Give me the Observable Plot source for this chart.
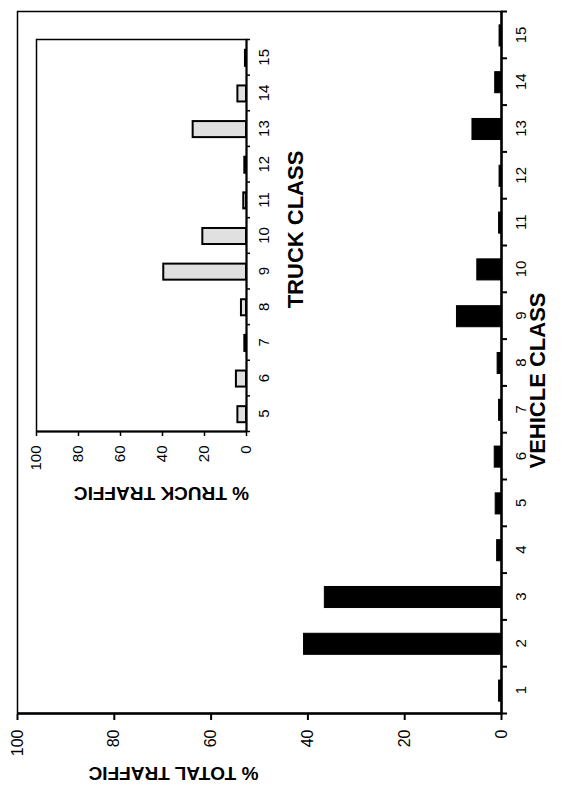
<!DOCTYPE html>
<html>
<head>
<meta charset="utf-8">
<script src="https://cdn.jsdelivr.net/npm/d3@7"></script>
<script src="https://cdn.jsdelivr.net/npm/@observablehq/plot@0.6"></script>
<style>
  html, body { margin: 0; padding: 0; background: white; }
  #page { position: relative; width: 576px; height: 796px; overflow: hidden; background: white; }
  #rot { position: absolute; left: 0; top: 0; width: 796px; height: 576px;
         transform-origin: 0 0; transform: translate(0px, 796px) rotate(-90deg); }
  #rot svg { position: absolute; left: 0; top: 0; }
</style>
</head>
<body>
<div id="page"><div id="rot"></div></div>
<script>
// Main chart: vehicle classes and % of total traffic
const vehicleClasses = [1, 2, 3, 4, 5, 6, 7, 8, 9, 10, 11, 12, 13, 14, 15];
const totalTrafficPct = [0.5, 40.8, 36.5, 0.9, 1.2, 1.4, 0.5, 0.8, 9.2, 5.0, 0.5, 0.4, 6.0, 1.3, 0.4];
// Inset chart: truck classes and % of truck traffic
const truckClasses = [5, 6, 7, 8, 9, 10, 11, 12, 13, 14, 15];
const truckTrafficPct = [4.1, 4.8, 0.8, 2.4, 39.4, 20.8, 1.3, 0.8, 25.4, 4.1, 0.5];
// Value-axis tick labels
const pctTicks = [0, 20, 40, 60, 80, 100];

const FONT = "'Liberation Sans', Arial, Helvetica, sans-serif";
const HALF = 0.225; // half bar width in class units

const mainData = vehicleClasses.map((c, i) => ({cls: c, pct: totalTrafficPct[i]}));
const truckData = truckClasses.map((c, i) => ({cls: c, pct: truckTrafficPct[i]}));

const mainBounds = d3.range(vehicleClasses[0] - 0.5, vehicleClasses[vehicleClasses.length - 1] + 1, 1);
const truckBounds = d3.range(truckClasses[0] - 0.5, truckClasses[truckClasses.length - 1] + 1, 1);

const main = Plot.plot({
  width: 796, height: 576,
  marginLeft: 82, marginRight: 12, marginTop: 17, marginBottom: 75,
  style: {fontFamily: FONT, fontSize: "15px", color: "black", background: "white", overflow: "visible"},
  x: {type: "linear", domain: [mainBounds[0], mainBounds[mainBounds.length - 1]]},
  y: {domain: [0, 100]},
  marks: [
    Plot.frame({stroke: "black", strokeWidth: 1.5}),
    Plot.rectY(mainData, {x1: d => d.cls - HALF, x2: d => d.cls + HALF, y1: 0, y2: "pct",
      fill: "black", stroke: "black", strokeWidth: 1}),
    Plot.axisX({ticks: mainBounds, tickFormat: () => "", tickSize: 6, strokeWidth: 2, label: null}),
    Plot.axisX({ticks: vehicleClasses, tickSize: 0, tickPadding: 14, fontSize: 15, label: null}),
    Plot.axisY({ticks: pctTicks, tickSize: 6, tickPadding: 10, strokeWidth: 2, fontSize: 16, label: null}),
    Plot.ruleY([0], {stroke: "black", strokeWidth: 2.5}),
    Plot.ruleX([mainBounds[0]], {stroke: "black", strokeWidth: 2.5}),
    Plot.text(["% TOTAL TRAFFIC"], {frameAnchor: "left", textAnchor: "middle", dx: -60, dy: -86, rotate: -90,
      fontWeight: "bold", fontSize: 19, fill: "black"}),
    Plot.text(["VEHICLE CLASS"], {frameAnchor: "bottom", textAnchor: "middle", dx: -18, dy: 43,
      fontWeight: "bold", fontSize: 22, fill: "black"})
  ]
});

const inset = Plot.plot({
  width: 796, height: 576,
  marginLeft: 364, marginRight: 40, marginTop: 36, marginBottom: 330,
  style: {fontFamily: FONT, fontSize: "15px", color: "black", background: "transparent", overflow: "visible"},
  x: {type: "linear", domain: [truckBounds[0], truckBounds[truckBounds.length - 1]]},
  y: {domain: [0, 100]},
  marks: [
    Plot.frame({fill: "white", stroke: "black", strokeWidth: 1.5}),
    Plot.rectY(truckData, {x1: d => d.cls - HALF, x2: d => d.cls + HALF, y1: 0, y2: "pct",
      fill: "#e0e0e0", stroke: "black", strokeWidth: 2}),
    Plot.axisX({ticks: truckBounds, tickFormat: () => "", tickSize: 4, strokeWidth: 1.5, label: null}),
    Plot.axisX({ticks: truckClasses, tickSize: 0, tickPadding: 12, fontSize: 15, label: null}),
    Plot.axisY({ticks: pctTicks, tickSize: 4, tickPadding: 10, strokeWidth: 1.5, fontSize: 15, label: null}),
    Plot.ruleY([0], {stroke: "black", strokeWidth: 2}),
    Plot.ruleX([truckBounds[0]], {stroke: "black", strokeWidth: 2}),
    Plot.text(["% TRUCK TRAFFIC"], {frameAnchor: "left", textAnchor: "middle", dx: -62, dy: 20, rotate: -90,
      fontWeight: "bold", fontSize: 19, fill: "black"}),
    Plot.text(["TRUCK CLASS"], {frameAnchor: "bottom", textAnchor: "middle", dx: 6, dy: 56,
      fontWeight: "bold", fontSize: 22, fill: "black"})
  ]
});

const rot = document.getElementById("rot");
rot.appendChild(main);
rot.appendChild(inset);
</script>
</body>
</html>
